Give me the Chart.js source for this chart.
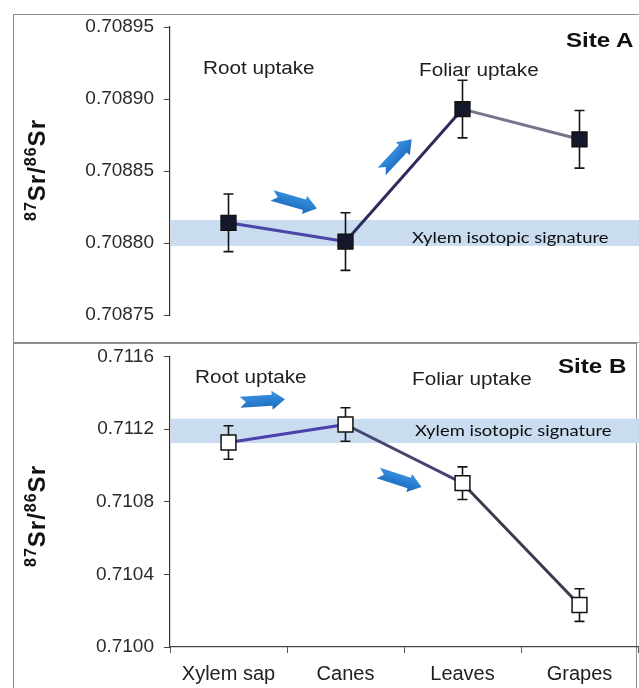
<!DOCTYPE html>
<html><head><meta charset="utf-8">
<script src="https://cdn.jsdelivr.net/npm/chart.js@4.4.1/dist/chart.umd.min.js"></script>
<style>
html,body{margin:0;padding:0;background:#fff;}
#wrap{position:relative;width:639px;height:688px;overflow:hidden;background:#fff;font-family:"Liberation Sans",Arial,sans-serif;}
canvas{position:absolute;left:0;}
.box{position:absolute;border:1px solid #8c8c8c;}
.t{position:absolute;white-space:nowrap;color:#1e1e1e;line-height:1;transform-origin:0 50%;transform:translateY(-50%) scaleX(1.15);font-size:18px;}
.b{font-weight:bold;font-size:21px;color:#111;}
.x{font-family:Lato,"Open Sans",sans-serif;font-size:16px;color:#0d0d0d;}
.yt{position:absolute;white-space:nowrap;font-weight:bold;font-size:24px;letter-spacing:1px;color:#111;line-height:1;transform:translate(-50%,-50%) rotate(-90deg);}
.yt sup{font-size:16px;vertical-align:9px;line-height:0;}
</style></head>
<body><div id="wrap">
<div class="box" style="left:13px;top:14px;width:640px;height:327px;"></div>
<div class="box" style="left:13px;top:343px;width:622px;height:360px;"></div>
<canvas id="cA" width="639" height="343" style="top:0"></canvas>
<canvas id="cB" width="639" height="353" style="top:335px"></canvas>

<div class="t" style="left:203px;top:68px;">Root uptake</div>
<div class="t" style="left:419px;top:70px;">Foliar uptake</div>
<div class="t b" style="left:566px;top:39px;">Site A</div>
<div class="t x" style="left:412px;top:237px;">Xylem isotopic signature</div>
<div class="yt" style="left:37px;top:170px;"><sup>87</sup>Sr/<sup>86</sup>Sr</div>

<div class="t" style="left:195px;top:377px;">Root uptake</div>
<div class="t" style="left:412px;top:379px;">Foliar uptake</div>
<div class="t b" style="left:558px;top:365px;">Site B</div>
<div class="t x" style="left:415px;top:430px;">Xylem isotopic signature</div>
<div class="yt" style="left:37px;top:516px;"><sup>87</sup>Sr/<sup>86</sup>Sr</div>
</div>
<script>
// ---- data ----
const categories = ['Xylem sap', 'Canes', 'Leaves', 'Grapes'];
const siteA = [0.708814, 0.708801, 0.708893, 0.708872];
const siteAErr = [0.000020, 0.000020, 0.000020, 0.000020];
const siteB = [0.711126, 0.711225, 0.710902, 0.710231];
const siteBErr = [0.000092, 0.000092, 0.000090, 0.000090];
const yTicksA = [0.70875, 0.70880, 0.70885, 0.70890, 0.70895];
const yTicksB = [0.7100, 0.7104, 0.7108, 0.7112, 0.7116];
const xylemBandA = [0.708798, 0.708816];
const xylemBandB = [0.711123, 0.711257];
// arrows: [x index tail, value tail, x index tip, value tip]
const arrowsA = [[0.372, 0.708833, 0.756, 0.708824], [1.309, 0.7088497, 1.566, 0.708872]];
const arrowsB = [[0.098, 0.711347, 0.483, 0.711364], [1.28, 0.710958, 1.65, 0.710881]];

const segColA = ['#4a46a6', '#2c2b5c', '#77758a'];
const segColB = ['#4b41aa', '#464672', '#3b3b4e'];

function drawArrow(ctx, x0, y0, x1, y1) {
  const dx = x1 - x0, dy = y1 - y0, L = Math.hypot(dx, dy);
  ctx.save();
  ctx.translate(x0, y0);
  ctx.rotate(Math.atan2(dy, dx));
  const h = 11, H = 19, hl = 13, n = 6;
  const g = ctx.createLinearGradient(0, -H / 2, 0, H / 2);
  g.addColorStop(0, '#3f95e0');
  g.addColorStop(0.5, '#2a7fd2');
  g.addColorStop(1, '#1f68b8');
  ctx.fillStyle = g;
  ctx.beginPath();
  ctx.moveTo(0, -h / 2);
  ctx.lineTo(L - hl, -h / 2);
  ctx.lineTo(L - hl, -H / 2);
  ctx.lineTo(L, 0);
  ctx.lineTo(L - hl, H / 2);
  ctx.lineTo(L - hl, h / 2);
  ctx.lineTo(0, h / 2);
  ctx.lineTo(n, 0);
  ctx.closePath();
  ctx.fill();
  ctx.restore();
}

const decoPlugin = {
  id: 'deco',
  beforeDatasetsDraw(chart) {
    const o = chart.options.plugins.deco;
    const {ctx, chartArea} = chart;
    const xs = chart.scales.x, ys = chart.scales.y;
    const yTop = ys.getPixelForValue(o.band[1]);
    const yBot = ys.getPixelForValue(o.band[0]);
    ctx.save();
    ctx.fillStyle = '#c9dcf0';
    ctx.fillRect(chartArea.left + 1, yTop, chart.width - chartArea.left, yBot - yTop);
    const vals = chart.data.datasets[0].data;
    ctx.strokeStyle = '#151515';
    ctx.lineWidth = 1.6;
    vals.forEach((v, i) => {
      const x = xs.getPixelForValue(i);
      const yh = ys.getPixelForValue(v + o.err[i]);
      const yl = ys.getPixelForValue(v - o.err[i]);
      ctx.beginPath();
      ctx.moveTo(x, yh); ctx.lineTo(x, yl);
      ctx.moveTo(x - 5, yh); ctx.lineTo(x + 5, yh);
      ctx.moveTo(x - 5, yl); ctx.lineTo(x + 5, yl);
      ctx.stroke();
    });
    ctx.restore();
  },
  afterDatasetsDraw(chart) {
    const o = chart.options.plugins.deco;
    const xs = chart.scales.x, ys = chart.scales.y;
    o.arrows.forEach(a => {
      drawArrow(chart.ctx, xs.getPixelForValue(a[0]), ys.getPixelForValue(a[1]),
                xs.getPixelForValue(a[2]), ys.getPixelForValue(a[3]));
    });
  }
};

function makeChart(id, values, errs, ticks, dec, band, arrows, segCols, fill, showX, pad) {
  return new Chart(document.getElementById(id), {
    type: 'line',
    data: {
      labels: categories,
      datasets: [{
        data: values,
        borderWidth: 3,
        borderColor: segCols[0],
        segment: { borderColor: c => segCols[c.p0DataIndex] },
        pointStyle: 'rect',
        pointRadius: 10.5,
        pointHoverRadius: 10.5,
        pointBorderWidth: 1.5,
        pointBorderColor: '#111',
        pointBackgroundColor: fill,
        tension: 0,
        clip: false
      }]
    },
    options: {
      responsive: false,
      animation: false,
      devicePixelRatio: 1,
      layout: { padding: pad, autoPadding: false },
      plugins: {
        legend: { display: false },
        tooltip: { enabled: false },
        deco: { err: errs, band: band, arrows: arrows }
      },
      scales: {
        x: {
          display: showX,
          offset: true,
          grid: { display: true, offset: true, drawOnChartArea: false, drawTicks: true, tickLength: 6, color: '#555' },
          border: { display: true, color: '#444', width: 1.2 },
          ticks: { color: '#222', font: { family: '"Liberation Sans", Arial', size: 20 }, padding: 9, maxRotation: 0 },
          afterFit(s) { s.height = showX ? 41 : 0; }
        },
        y: {
          min: ticks[0],
          max: ticks[ticks.length - 1],
          afterBuildTicks(s) { s.ticks = ticks.map(v => ({ value: v })); },
          afterFit(s) { s.width = 170; },
          grid: { drawOnChartArea: false, drawTicks: true, tickLength: 6, color: '#444' },
          border: { display: true, color: '#333', width: 1.2 },
          ticks: { color: '#2a2a2a', font: { family: '"Liberation Sans", Arial', size: 19 }, padding: 10,
                   callback: v => Number(v).toFixed(dec) }
        }
      }
    },
    plugins: [decoPlugin]
  });
}

makeChart('cA', siteA, siteAErr, yTicksA, 5, xylemBandA, arrowsA, segColA, '#14182a', false,
          { top: 27, bottom: 28, left: 0, right: 1 });
makeChart('cB', siteB, siteBErr, yTicksB, 4, xylemBandB, arrowsB, segColB, '#ffffff', true,
          { top: 21, bottom: 0, left: 0, right: 1 });
</script>
</body></html>
